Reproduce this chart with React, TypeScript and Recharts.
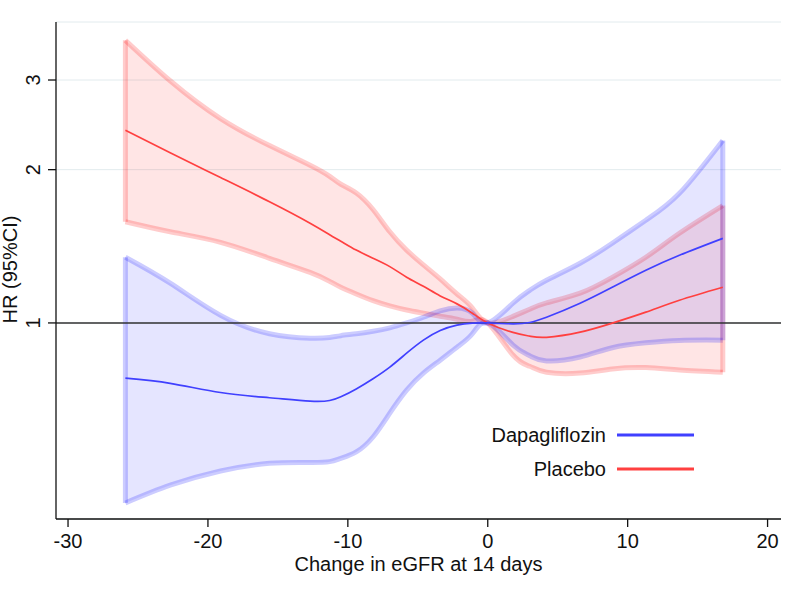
import React from 'react';
import {
  ComposedChart,
  Area,
  Line,
  XAxis,
  YAxis,
  CartesianGrid,
  ReferenceLine,
  Legend,
  Label,
} from 'recharts';

// Change in eGFR at 14 days (x)
const xValues = [-25.9, -22.7, -19.1, -15.6, -12.7, -11.3, -10.5, -9.4, -8.2, -7.0, -5.8, -4.6, -3.4, -2.2, -1.1, 0, 1.8, 3.0, 4.2, 6.6, 8.9, 11.3, 13.7, 16.8];

// Dapagliflozin HR and 95% CI
const dapaHR = [0.779, 0.761, 0.73, 0.713, 0.702, 0.704, 0.716, 0.742, 0.777, 0.819, 0.872, 0.925, 0.966, 0.99, 0.999, 1, 0.996, 1.002, 1.026, 1.093, 1.175, 1.269, 1.358, 1.466];
const dapaLower = [0.443, 0.48, 0.512, 0.53, 0.532, 0.534, 0.542, 0.558, 0.597, 0.665, 0.738, 0.797, 0.845, 0.896, 0.952, 1, 0.905, 0.862, 0.842, 0.857, 0.894, 0.914, 0.924, 0.925];
const dapaUpper = [1.346, 1.197, 1.035, 0.952, 0.933, 0.936, 0.944, 0.952, 0.963, 0.978, 1.0, 1.026, 1.056, 1.07, 1.045, 1, 1.093, 1.159, 1.213, 1.31, 1.434, 1.591, 1.797, 2.283];

// Placebo HR and 95% CI
const placeboHR = [2.39, 2.16, 1.93, 1.73, 1.57, 1.49, 1.447, 1.39, 1.34, 1.29, 1.23, 1.18, 1.13, 1.09, 1.045, 1, 0.958, 0.942, 0.937, 0.959, 0.999, 1.05, 1.108, 1.175];
const placeboLower = [1.58, 1.51, 1.44, 1.339, 1.257, 1.207, 1.175, 1.14, 1.106, 1.08, 1.06, 1.045, 1.031, 1.017, 1.008, 1, 0.865, 0.822, 0.8, 0.797, 0.812, 0.817, 0.808, 0.8];
const placeboUpper = [3.59, 2.99, 2.52, 2.23, 2.04, 1.94, 1.872, 1.8, 1.67, 1.51, 1.39, 1.3, 1.22, 1.14, 1.07, 1, 1.03, 1.064, 1.095, 1.144, 1.229, 1.346, 1.5, 1.7];

const xTicks = [-30, -20, -10, 0, 10, 20];
const yTicks = [1, 2, 3];
const seriesNames = ['Dapagliflozin', 'Placebo'];

const BLUE = '#4040ff';
const RED = '#ff4040';
const FONT = '"Liberation Sans", Arial, Helvetica, sans-serif';

const data = xValues.map((x, i) => ({
  x,
  dapaBand: [dapaLower[i], dapaUpper[i]],
  dapaHR: dapaHR[i],
  placeboBand: [placeboLower[i], placeboUpper[i]],
  placeboHR: placeboHR[i],
}));

const last = xValues.length - 1;

const renderYTick = (props: any) => {
  const { y, payload } = props;
  return (
    <g transform={`translate(40, ${y}) rotate(-90)`}>
      <text x={0} y={0} textAnchor="middle" fontSize={20} fontFamily={FONT} fill="#111">
        {payload.value}
      </text>
    </g>
  );
};

const renderXTick = (props: any) => {
  const { x, payload } = props;
  return (
    <text x={x} y={548} textAnchor="middle" fontSize={20} fontFamily={FONT} fill="#111">
      {payload.value}
    </text>
  );
};

const LegendContent = () => {
  const colors = [BLUE, RED];
  return (
    <svg width={800} height={601} style={{ position: 'absolute', left: 0, top: 0, overflow: 'visible' }}>
      {seriesNames.map((name, i) => (
        <g key={name}>
          <text
            x={606}
            y={442 + i * 34}
            textAnchor="end"
            fontSize={20}
            fontFamily={FONT}
            fill="#111"
          >
            {name}
          </text>
          <line x1={617} x2={694} y1={435 + i * 34} y2={435 + i * 34} stroke={colors[i]} strokeWidth={3} />
        </g>
      ))}
    </svg>
  );
};

export default function App() {
  const edgeStyle = { strokeWidth: 5, ifOverflow: 'visible' as const };
  const bandOpacity = 0.2;
  return (
    <div style={{ position: 'absolute', left: 0, top: 0, width: 800, height: 601, background: '#fff' }}>
      <ComposedChart
        width={800}
        height={601}
        data={data}
        margin={{ top: 22, right: 19, bottom: 0, left: 0 }}
      >
        <CartesianGrid horizontal vertical={false} stroke="#e2ebee" strokeWidth={1} />
        <XAxis
          type="number"
          dataKey="x"
          domain={[-30.86, 20.96]}
          ticks={xTicks}
          allowDataOverflow
          height={82}
          tickSize={8}
          tickLine={{ stroke: '#111', strokeWidth: 1.3 }}
          axisLine={{ stroke: '#111', strokeWidth: 1.3 }}
          tick={renderXTick}
          interval={0}
        >
          <Label
            content={(p: any) => {
              const vb = p.viewBox;
              return (
                <text
                  x={vb.x + vb.width / 2}
                  y={571}
                  textAnchor="middle"
                  fontSize={20}
                  fontFamily={FONT}
                  fill="#111"
                >
                  Change in eGFR at 14 days
                </text>
              );
            }}
          />
        </XAxis>
        <YAxis
          scale="log"
          type="number"
          domain={[0.412, 3.9]}
          ticks={yTicks}
          allowDataOverflow
          width={56}
          tickSize={8}
          tickLine={{ stroke: '#111', strokeWidth: 1.3 }}
          axisLine={{ stroke: '#111', strokeWidth: 1.3 }}
          tick={renderYTick}
          interval={0}
        >
          <Label
            content={(p: any) => {
              const vb = p.viewBox;
              const cy = vb.y + vb.height / 2 - 1;
              return (
                <text
                  x={0}
                  y={0}
                  transform={`translate(17, ${cy}) rotate(-90)`}
                  textAnchor="middle"
                  fontSize={20}
                  fontFamily={FONT}
                  fill="#111"
                >
                  HR (95%CI)
                </text>
              );
            }}
          />
        </YAxis>

        <Area
          dataKey="placeboBand"
          type="natural"
          fill="#ff0000"
          fillOpacity={0.1}
          stroke="#ff0000"
          strokeOpacity={bandOpacity}
          strokeWidth={5}
          isAnimationActive={false}
          dot={false}
          activeDot={false}
        />
        <ReferenceLine
          segment={[{ x: xValues[0], y: placeboLower[0] }, { x: xValues[0], y: placeboUpper[0] }]}
          stroke="#ff0000"
          strokeOpacity={bandOpacity}
          {...edgeStyle}
        />
        <ReferenceLine
          segment={[{ x: xValues[last], y: placeboLower[last] }, { x: xValues[last], y: placeboUpper[last] }]}
          stroke="#ff0000"
          strokeOpacity={bandOpacity}
          {...edgeStyle}
        />
        <Area
          dataKey="dapaBand"
          type="natural"
          fill="#0000ff"
          fillOpacity={0.1}
          stroke="#0000ff"
          strokeOpacity={bandOpacity}
          strokeWidth={5}
          isAnimationActive={false}
          dot={false}
          activeDot={false}
        />
        <ReferenceLine
          segment={[{ x: xValues[0], y: dapaLower[0] }, { x: xValues[0], y: dapaUpper[0] }]}
          stroke="#0000ff"
          strokeOpacity={bandOpacity}
          {...edgeStyle}
        />
        <ReferenceLine
          segment={[{ x: xValues[last], y: dapaLower[last] }, { x: xValues[last], y: dapaUpper[last] }]}
          stroke="#0000ff"
          strokeOpacity={bandOpacity}
          {...edgeStyle}
        />
        <ReferenceLine y={1} stroke="#333" strokeWidth={1.5} />
        <Line
          dataKey="placeboHR"
          name={seriesNames[1]}
          type="natural"
          stroke={RED}
          strokeWidth={1.7}
          dot={false}
          activeDot={false}
          isAnimationActive={false}
        />
        <Line
          dataKey="dapaHR"
          name={seriesNames[0]}
          type="natural"
          stroke={BLUE}
          strokeWidth={1.7}
          dot={false}
          activeDot={false}
          isAnimationActive={false}
        />
        <Legend
          content={<LegendContent />}
          wrapperStyle={{ position: 'absolute', left: 0, top: 0, width: 0, height: 0, overflow: 'visible', pointerEvents: 'none' }}
        />
      </ComposedChart>
    </div>
  );
}
